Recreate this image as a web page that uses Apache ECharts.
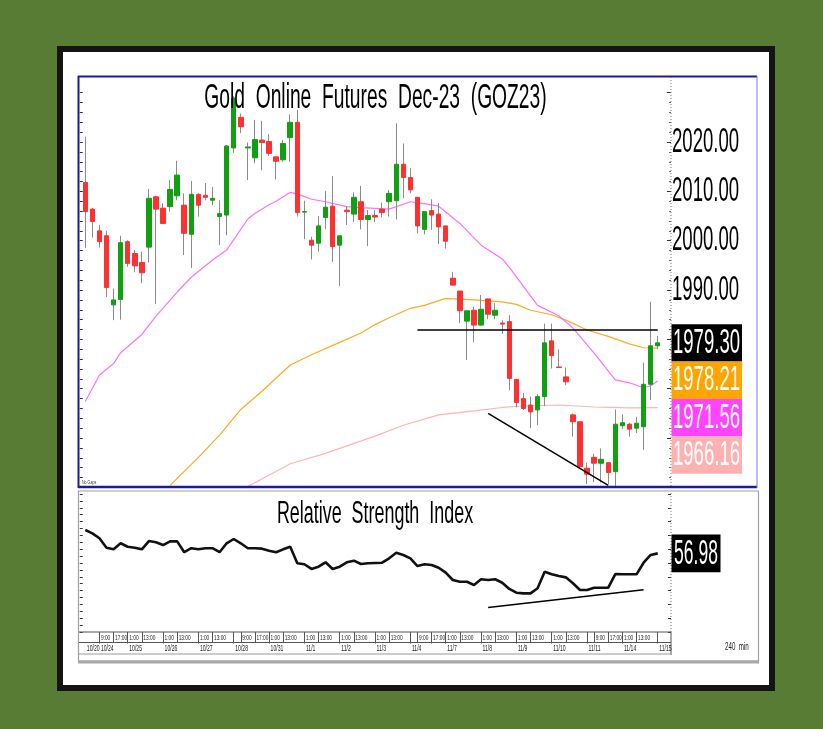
<!DOCTYPE html>
<html>
<head>
<meta charset="utf-8">
<title>Gold Online Futures Dec-23 (GOZ23)</title>
<script src="https://cdn.jsdelivr.net/npm/echarts@6/dist/echarts.min.js"></script>
<style>
  html, body { margin: 0; padding: 0; background: #587c34; }
  #chart { width: 823px; height: 729px; }
</style>
</head>
<body>
<div id="chart"></div>
<script>
// 240 min bars, 10/20 - 11/15
const opens = [2011.8,2006.4,2002.0,2001.0,1987.0,1988.1,1999.8,1997.4,1995.6,1998.7,
  2008.9,2006.6,2006.9,2009.1,2007.2,2001.3,2009.4,2009.2,2008.2,2004.9,
  2005.2,2018.8,2025.0,2018.8,2016.8,2020.4,2020.1,2017.0,2016.4,2020.9,
  2024.0,2005.8,2000.1,1999.5,2004.7,2007.0,1999.1,2006.2,2005.4,2007.9,
  2004.3,2005.1,2006.4,2007.9,2008.1,2015.5,2012.8,2008.8,2002.3,2006.1,
  2005.4,2003.0,1992.4,1989.8,1983.7,1985.9,1982.9,1988.2,1984.9,1983.3,
  1983.6,1971.9,1968.0,1966.7,1965.7,1968.4,1979.7,1974.4,1972.4,1964.7,
  1963.3,1953.9,1956.1,1954.9,1955.0,1953.2,1962.5,1962.8,1962.0,1962.3,
  1970.9,1978.7];
const highs = [2021.1,2006.6,2003.2,2002.0,1990.3,2001.0,2000.1,1998.1,1997.8,2010.5,
  2009.1,2007.6,2012.3,2016.2,2009.6,2012.1,2009.6,2011.7,2010.9,2008.2,
  2019.4,2029.3,2025.8,2019.9,2024.5,2024.3,2021.6,2017.0,2020.4,2025.6,
  2026.5,2008.1,2000.8,2005.0,2010.1,2013.1,2001.0,2007.0,2009.8,2011.1,
  2006.2,2006.2,2007.7,2010.3,2023.8,2019.7,2014.7,2008.8,2005.9,2008.4,
  2007.6,2003.0,1993.7,1989.8,1985.8,1986.6,1989.0,1988.2,1987.4,1983.9,
  1984.9,1971.9,1969.1,1968.4,1968.9,1983.2,1983.2,1978.0,1974.3,1965.0,
  1963.3,1955.0,1956.8,1957.9,1955.0,1965.8,1964.8,1963.1,1964.3,1975.3,
  1987.6,1980.7];
const lows = [1998.5,2000.6,1998.6,1988.6,1983.9,1984.0,1994.7,1993.6,1991.4,1995.6,
  1987.2,2003.5,2005.9,2008.2,1997.1,1994.5,2004.9,2008.2,2007.2,1999.1,
  2001.1,2017.8,2021.8,2012.3,2015.7,2014.3,2017.2,2012.4,2016.0,2016.0,
  2004.9,2000.3,1996.2,1997.8,2002.3,1995.7,1990.8,2003.2,2003.8,2002.3,
  1998.9,2003.8,2004.7,2004.9,2004.3,2008.6,2009.6,2001.5,2001.3,2002.2,
  1999.3,1998.4,1991.0,1983.3,1975.8,1979.4,1982.9,1984.1,1984.1,1981.1,
  1969.7,1966.2,1965.7,1962.0,1962.6,1966.5,1974.1,1974.3,1970.7,1960.3,
  1953.9,1950.7,1951.1,1951.0,1950.7,1950.1,1961.8,1960.3,1961.0,1957.6,
  1967.7,1978.0];
const closes = [2005.9,2003.9,1999.8,1990.5,1988.0,1999.6,1995.4,1994.9,1993.5,2008.6,
  2006.4,2003.5,2010.4,2013.3,2001.5,2009.4,2007.2,2008.8,2008.6,2005.5,
  2019.2,2028.9,2023.1,2019.0,2020.5,2019.9,2017.7,2016.1,2019.7,2024.0,
  2005.7,2005.9,1999.1,2003.0,2006.8,1998.8,2001.0,2005.9,2008.8,2004.3,
  2005.1,2004.8,2005.7,2009.6,2015.5,2012.8,2010.3,2003.0,2005.9,2005.2,
  2002.8,1999.9,1991.0,1985.8,1985.8,1982.9,1986.1,1985.1,1985.9,1983.1,
  1972.1,1967.2,1966.0,1965.3,1968.4,1979.3,1976.7,1974.3,1971.4,1963.3,
  1954.2,1952.7,1954.9,1955.7,1953.0,1962.8,1963.1,1961.8,1963.0,1970.9,
  1978.7,1979.3];

// moving averages, read at sample bars: [bar index, price]
const maMagenta = [[0,1967.4],[2,1972.8],[4,1975.1],[5,1977.3],[8,1981.0],[10,1984.7],[13,1989.6],
  [15,1992.6],[18,1996.1],[20,1998.1],[23,2004.4],[24,2005.5],[26,2007.3],[27,2008.0],[29,2009.8],
  [30,2009.5],[32,2008.4],[34,2007.9],[37,2006.9],[39,2006.7],[43,2006.4],[46,2007.9],[48,2007.5],
  [50,2007.0],[53,2003.5],[56,1999.1],[59,1996.3],[60,1994.6],[64,1986.9],[67,1984.8],[69,1982.3],
  [72,1977.2],[75,1971.8],[77,1971.2],[79,1970.2],[80,1970.6],[81,1971.56]];
const maOrange = [[12,1950.4],[16,1956.1],[19,1960.6],[22,1965.8],[25,1969.5],[29,1974.8],[32,1976.9],
  [36,1979.4],[39,1981.3],[41,1983.0],[43,1984.4],[46,1986.3],[48,1986.9],[51,1988.3],[55,1988.0],
  [59,1987.6],[61,1987.1],[63,1985.9],[66,1985.0],[68,1983.9],[71,1981.9],[74,1980.6],[77,1979.1],
  [79,1978.3],[81,1978.21]];
const maPink = [[23,1950.2],[29,1954.8],[34,1956.9],[36,1957.9],[41,1960.4],[45,1962.6],[50,1964.7],
  [55,1965.5],[59,1966.2],[62,1966.5],[67,1966.7],[72,1966.3],[77,1966.1],[81,1966.16]];

const rsi = [73.9,71.5,67.9,61.1,59.9,64.3,61.8,61.1,59.9,65.9,
  65.0,63.0,65.7,65.7,57.8,60.7,59.9,60.7,60.7,57.8,
  64.3,67.4,64.3,60.7,60.7,60.4,58.9,57.8,59.9,61.8,
  49.8,49.1,45.7,47.3,50.5,45.7,47.3,50.5,51.7,49.3,
  49.8,50.0,50.2,53.4,57.5,55.8,53.4,47.8,49.1,48.6,
  46.6,43.0,37.7,36.4,36.4,34.1,38.2,37.7,38.2,35.7,
  31.2,28.5,28.0,28.0,31.7,43.7,41.8,40.6,39.6,35.3,
  30.4,30.4,32.1,32.1,32.1,42.0,41.8,41.8,41.8,50.2,
  55.8,56.98];

// drawn trend lines: [bar index, value]
const resistance = [[47,1982.0],[81,1982.0]];
const priceTrend = [[57,1965.0],[74,1950.4]];
const rsiTrend = [[57,17.7],[79,30.6]];

const priceTicks = [1990, 2000, 2010, 2020];
const timeTicks = [[2,'9:00'],[4,'17:00'],[6,'1:00'],[8,'13:00'],[11,'1:00'],[13,'13:00'],[16,'1:00'],
  [18,'13:00'],[22,'9:00'],[24,'17:00'],[26,'1:00'],[28,'13:00'],[31,'1:00'],[33,'13:00'],[36,'1:00'],
  [38,'13:00'],[41,'1:00'],[43,'13:00'],[47,'9:00'],[49,'17:00'],[51,'1:00'],[53,'13:00'],[56,'1:00'],
  [58,'13:00'],[61,'1:00'],[63,'13:00'],[66,'1:00'],[68,'13:00'],[72,'9:00'],[74,'17:00'],[76,'1:00'],
  [78,'13:00']];
const dateTicks = [[0,'10/20'],[2,'10/24'],[6,'10/25'],[11,'10/26'],[16,'10/27'],[21,'10/28'],[26,'10/31'],
  [31,'11/1'],[36,'11/2'],[41,'11/3'],[46,'11/4'],[49,''],[51,'11/7'],[56,'11/8'],[61,'11/9'],
  [66,'11/10'],[71,'11/11'],[76,'11/14'],[81,'11/15']];

const bars = opens.map((_, i) => String(i));
const FONT = "'Liberation Sans', Arial, sans-serif";

const timeIdx = timeTicks.map(t => t[0]);
const dateIdx = dateTicks.map(t => t[0]).filter(i => i !== 0);

function trend(pts) {
  return {
    silent: true, symbol: ['none', 'none'], label: { show: false },
    lineStyle: { color: '#000', width: 1.5, type: 'solid' },
    data: [[{ coord: pts[0] }, { coord: pts[1] }]]
  };
}

const myChart = echarts.init(document.getElementById('chart'));

const option = {
  animation: false,
  backgroundColor: '#587c34',
  grid: [
    { left: 81.77, right: 161.73, top: 92.7, height: 394.7 },
    { left: 81.77, right: 161.73, top: 494, height: 138 }
  ],
  xAxis: [
    { type: 'category', gridIndex: 0, data: bars, boundaryGap: true, show: false },
    {
      type: 'category', gridIndex: 1, data: bars, boundaryGap: true,
      axisLine: { show: false }, axisLabel: { show: false }, splitLine: { show: false },
      axisTick: { show: true, alignWithLabel: true, length: 10, interval: i => timeIdx.includes(i),
        lineStyle: { color: '#555' } }
    },
    {
      type: 'category', gridIndex: 1, data: bars, boundaryGap: true, position: 'bottom', offset: 10.5,
      axisLine: { show: false }, axisLabel: { show: false }, splitLine: { show: false },
      axisTick: { show: true, alignWithLabel: true, length: 11.5, interval: i => dateIdx.includes(i),
        lineStyle: { color: '#555' } }
    }
  ],
  yAxis: [
    {
      type: 'value', gridIndex: 0, min: 1950, max: 2030, interval: 10, position: 'right', offset: 9.7,
      axisLine: { show: false }, axisLabel: { show: false }, splitLine: { show: false },
      axisTick: { show: true, inside: true, length: 4, lineStyle: { color: '#333' } },
      minorTick: { show: true, splitNumber: 5, length: 2, lineStyle: { color: '#666' } }
    },
    {
      type: 'value', gridIndex: 0, min: 1950, max: 2030, interval: 2, position: 'left', offset: 2,
      axisLine: { show: false }, axisLabel: { show: false }, splitLine: { show: false },
      axisTick: { show: true, inside: true, length: 3, lineStyle: { color: '#333' } }
    },
    {
      type: 'value', gridIndex: 1, min: 0, max: 100, interval: 10, position: 'right', offset: 9.7,
      axisLine: { show: false }, axisLabel: { show: false }, splitLine: { show: false },
      axisTick: { show: true, inside: true, length: 3, lineStyle: { color: '#333' } }
    },
    {
      type: 'value', gridIndex: 1, min: 0, max: 100, interval: 5, position: 'left', offset: 2,
      axisLine: { show: false }, axisLabel: { show: false }, splitLine: { show: false },
      axisTick: { show: true, inside: true, length: 3, lineStyle: { color: '#333' } }
    }
  ],
  series: [
    {
      name: 'ma1', type: 'line', xAxisIndex: 0, yAxisIndex: 0, data: maPink, symbol: 'none',
      lineStyle: { color: '#ffb4b4', width: 1.2 }, z: 1
    },
    {
      name: 'ma2', type: 'line', xAxisIndex: 0, yAxisIndex: 0, data: maOrange, symbol: 'none',
      lineStyle: { color: '#ffaa22', width: 1.2 }, z: 1
    },
    {
      name: 'ma3', type: 'line', xAxisIndex: 0, yAxisIndex: 0, data: maMagenta, symbol: 'none',
      lineStyle: { color: '#ff70ff', width: 1.2 }, z: 1
    },
    {
      // wicks
      name: 'wick', type: 'candlestick', xAxisIndex: 0, yAxisIndex: 0, barWidth: 1,
      data: opens.map((o, i) => [o, closes[i], lows[i], highs[i]]),
      itemStyle: { color: '#8c8c8c', color0: '#8c8c8c', borderColor: '#8c8c8c', borderColor0: '#8c8c8c', borderWidth: 1 },
      markLine: trend(priceTrend), z: 2
    },
    {
      // bodies
      name: 'body', type: 'candlestick', xAxisIndex: 0, yAxisIndex: 0, barWidth: 5,
      data: opens.map((o, i) => [o, closes[i], Math.min(o, closes[i]), Math.max(o, closes[i])]),
      itemStyle: { color: '#11a011', color0: '#ff3030', borderColor: '#11a011', borderColor0: '#ff3030', borderWidth: 1 },
      markLine: trend(resistance), z: 3
    },
    {
      name: 'RSI', type: 'line', xAxisIndex: 1, yAxisIndex: 2, data: rsi, symbol: 'none',
      lineStyle: { color: '#111', width: 2.6 }, markLine: trend(rsiTrend)
    }
  ]
};
myChart.setOption(option);

// frames, texts and value boxes
function txt(x, y, text, size, sx, fill, align, weight) {
  return {
    type: 'text', x: x, y: y, scaleX: sx, z: 20,
    style: { text: text, fontSize: size, fontFamily: FONT, fill: fill || '#000', fontWeight: weight || 'normal',
      align: align || 'left', textAlign: align || 'left', verticalAlign: 'middle', textVerticalAlign: 'middle' }
  };
}
function line(x1, y1, x2, y2, color, w, dash) {
  return { type: 'line', z: 15, shape: { x1, y1, x2, y2 }, style: { stroke: color, lineWidth: w, lineDash: dash || null } };
}
function box(x, y, w, h, fill) {
  return { type: 'rect', z: 18, shape: { x, y, width: w, height: h }, style: { fill: fill } };
}

const g = [];
g.push({ type: 'rect', z: -5, shape: { x: 60, y: 49, width: 712, height: 639 }, style: { fill: '#fff', stroke: '#141414', lineWidth: 6 } });
// price panel
g.push(line(78, 76.5, 757, 76.5, '#1c1c9a', 2));
g.push(line(78.5, 76, 78.5, 488, '#1c1c9a', 2));
g.push(line(78, 487, 757, 487, '#1c1c9a', 2.5));
g.push(line(757, 76, 757, 488, '#7a7ad6', 1));
g.push(line(671, 77, 671, 486, '#777', 1, [1, 2]));
// rsi panel
g.push({ type: 'rect', z: 14, shape: { x: 78.5, y: 491, width: 680, height: 170 }, style: { fill: null, stroke: '#a0a0a0', lineWidth: 1.2 } });
g.push(line(78, 662, 759, 662, '#a8a8a8', 3));
g.push(line(671, 493, 671, 632, '#777', 1, [1, 2]));
g.push(line(671, 632, 671, 655, '#555', 1));
g.push(line(79, 632, 671, 632, '#555', 1));
g.push(line(79, 642.5, 671, 642.5, '#555', 1));
g.push(line(79, 654, 671, 654, '#999', 1));

g.push(txt(375.5, 98, 'Gold  Online  Futures  Dec-23  (GOZ23)', 35, 0.55, '#000', 'center'));
g.push(txt(375, 514.5, 'Relative  Strength  Index', 32, 0.56, '#000', 'center'));
g.push(txt(82, 482, 'No Gaps', 6, 0.6, '#333'));
g.push(txt(725, 647, '240  min', 10, 0.62, '#222'));
g.push(txt(-5, 552, ')', 18, 1, '#b01818', 'left', 'bold'));

priceTicks.forEach(v => {
  g.push(txt(672, myChart.convertToPixel({ yAxisIndex: 0 }, v), v.toFixed(2), 35, 0.53, '#000'));
});

const last = closes[closes.length - 1];
const boxes = [
  [last, '#000000'],
  [maOrange[maOrange.length - 1][1], '#ffa500'],
  [maMagenta[maMagenta.length - 1][1], '#ff44ff'],
  [maPink[maPink.length - 1][1], '#ffb0b0']
];
const y0 = myChart.convertToPixel({ yAxisIndex: 0 }, last) - 18.7;
boxes.forEach((b, k) => {
  const y = y0 + k * 37.4;
  g.push(box(671.5, y, 70.5, 37.4, b[1]));
  g.push(txt(706.5, y + 19, b[0].toFixed(2), 35, 0.53, '#fff', 'center'));
});
const rsiLast = rsi[rsi.length - 1];
const ry = myChart.convertToPixel({ yAxisIndex: 2 }, rsiLast);
g.push(box(671.5, ry - 18.8, 49, 37.7, '#000'));
g.push(txt(696, ry + 0.5, rsiLast.toFixed(2), 35, 0.5, '#fff', 'center'));

timeTicks.forEach(t => {
  g.push(txt(myChart.convertToPixel({ xAxisIndex: 1 }, t[0]) + 1.5, 637.5, t[1], 8, 0.6, '#222'));
});
dateTicks.forEach(t => {
  g.push(txt(myChart.convertToPixel({ xAxisIndex: 1 }, t[0]) + 1.5, 648.5, t[1], 8.5, 0.6, '#222'));
});

myChart.setOption({ graphic: { elements: g } });
</script>
</body>
</html>
